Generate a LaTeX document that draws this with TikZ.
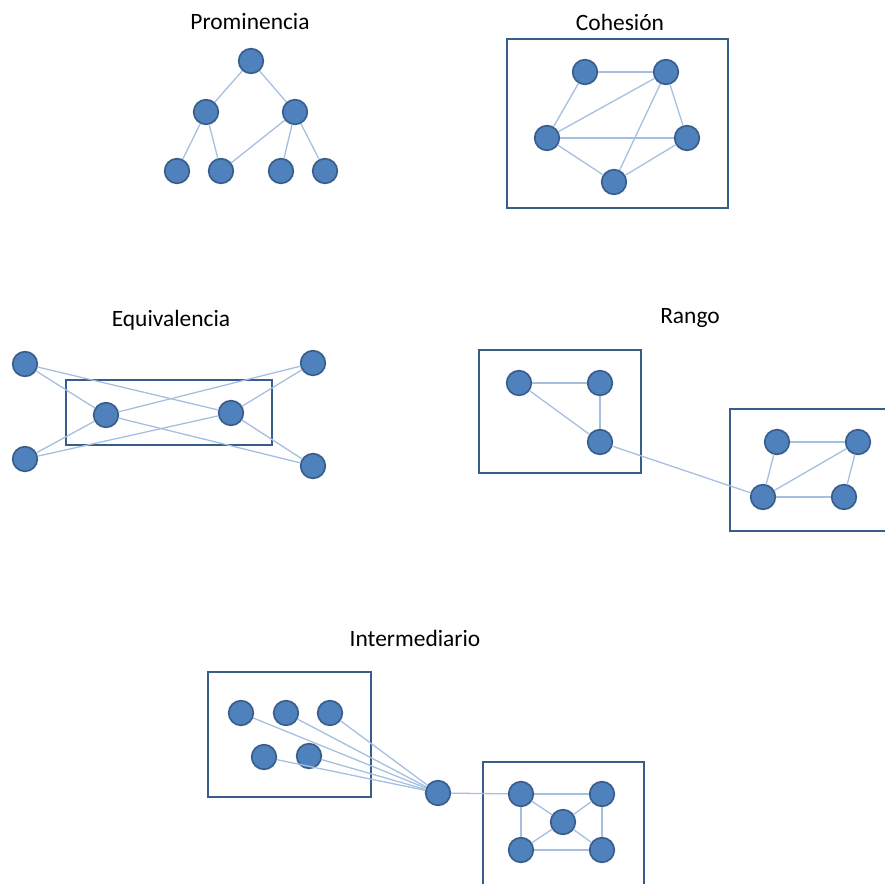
\documentclass[tikz,border=0pt]{standalone}
\usepackage{fontspec}
\setmainfont{Carlito}
\definecolor{nodo}{HTML}{4F81BD}
\definecolor{borde}{HTML}{385D8A}
\definecolor{enlace}{HTML}{A5BFE0}
\begin{document}
\begin{tikzpicture}[x=0.03cm, y=-0.03cm,
  nd/.style={circle, fill=nodo, draw=borde, line width=1.4pt, minimum size=0.74cm, inner sep=0pt},
  ln/.style={enlace, line width=1.1pt}, caja/.style={borde, line width=2.3pt},
  titulo/.style={font=\fontsize{20}{24}\selectfont}]
  \useasboundingbox (0,0) rectangle (885,883); \clip (0,0) rectangle (885,883);
  % Prominencia
  \node[titulo] (tpro) at (250,22) {Prominencia};
  \node[nd] (pr0) at (251,61) {}; \node[nd] (pr1) at (206,112) {}; \node[nd] (pr2) at (295,112) {};
  \node[nd] (pr3) at (177,171) {}; \node[nd] (pr4) at (221,171) {}; \node[nd] (pr5) at (281,171) {}; \node[nd] (pr6) at (325,171) {};
  \foreach \a/\b in {pr0/pr1, pr0/pr2, pr1/pr3, pr1/pr4, pr2/pr4, pr2/pr5, pr2/pr6} \draw[ln] (\a) -- (\b);
  % Cohesion
  \node[titulo] (tcoh) at (620,22) {Cohesión};
  \draw[caja] (507,39) rectangle (728,208);
  \node[nd] (co1) at (585,72) {}; \node[nd] (co2) at (666,72) {}; \node[nd] (co3) at (547,138) {};
  \node[nd] (co4) at (687,138) {}; \node[nd] (co5) at (614,182) {};
  \foreach \a/\b in {co1/co2, co1/co3, co2/co3, co2/co4, co2/co5, co3/co4, co3/co5, co4/co5} \draw[ln] (\a) -- (\b);
  % Equivalencia
  \node[titulo] (tequ) at (171,320) {Equivalencia};
  \draw[caja] (66,380) rectangle (272,445);
  \node[nd] (eq1) at (25,364) {}; \node[nd] (eq2) at (313,363) {}; \node[nd] (eq3) at (25,459) {}; \node[nd] (eq4) at (313,466) {};
  \node[nd] (eqa) at (106,415) {}; \node[nd] (eqb) at (231,413) {};
  \foreach \a/\b in {eq1/eqa, eq1/eqb, eq2/eqa, eq2/eqb, eq3/eqa, eq3/eqb, eq4/eqa, eq4/eqb} \draw[ln] (\a) -- (\b);
  % Rango
  \node[titulo] (tran) at (690,318) {Rango};
  \draw[caja] (479,350) rectangle (641,473); \draw[caja] (730,409) rectangle (900,531);
  \node[nd] (ra1) at (519,383) {}; \node[nd] (ra2) at (600,383) {}; \node[nd] (ra3) at (600,442) {};
  \node[nd] (rb1) at (777,442) {}; \node[nd] (rb2) at (858,442) {}; \node[nd] (rb3) at (763,497) {}; \node[nd] (rb4) at (844,497) {};
  \foreach \a/\b in {ra1/ra2, ra2/ra3, ra1/ra3, ra3/rb3, rb1/rb2, rb1/rb3, rb3/rb2, rb2/rb4, rb3/rb4} \draw[ln] (\a) -- (\b);
  % Intermediario
  \node[titulo] (tint) at (415,638) {Intermediario};
  \draw[caja] (208,672) rectangle (371,797); \draw[caja] (483,762) rectangle (644,900);
  \node[nd] (ia1) at (241,713) {}; \node[nd] (ia2) at (286,713) {}; \node[nd] (ia3) at (330,713) {};
  \node[nd] (ia4) at (264,757) {}; \node[nd] (ia5) at (309,756) {};
  \node[nd] (imed) at (438,793) {};
  \node[nd] (ib1) at (521,794) {}; \node[nd] (ib2) at (602,794) {}; \node[nd] (ib3) at (563,822) {};
  \node[nd] (ib4) at (521,850) {}; \node[nd] (ib5) at (602,850) {};
  \foreach \a in {ia1, ia2, ia3, ia4, ia5} \draw[ln] (\a) -- (imed);
  \foreach \a/\b in {imed/ib1, ib1/ib2, ib1/ib3, ib2/ib3, ib3/ib4, ib3/ib5, ib1/ib4, ib2/ib5, ib4/ib5} \draw[ln] (\a) -- (\b);
\end{tikzpicture}
\end{document}
